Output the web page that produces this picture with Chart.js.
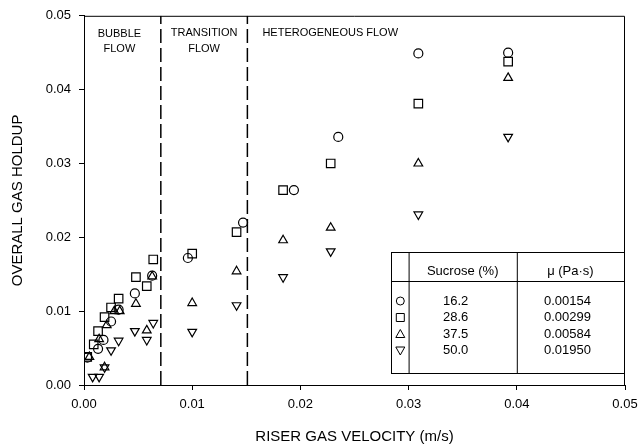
<!DOCTYPE html>
<html>
<head>
<meta charset="utf-8">
<script src="https://cdn.jsdelivr.net/npm/chart.js@4/dist/chart.umd.min.js"></script>
<style>
  html, body { margin: 0; padding: 0; background: #fff; }
  #wrap { width: 638px; height: 446px; }
</style>
</head>
<body>
<div id="wrap"><canvas id="holdup"></canvas></div>
<script>
// series (riser gas velocity m/s, overall gas holdup)
const x162 = [0.0003, 0.0013, 0.0018, 0.0025, 0.0032, 0.0047, 0.0063, 0.0096, 0.0147, 0.0194, 0.0235, 0.0309, 0.0392];
const y162 = [0.0037, 0.0049, 0.0061, 0.0086, 0.0102, 0.0124, 0.0148, 0.0172, 0.0220, 0.0264, 0.0336, 0.0449, 0.0450];

const x286 = [0.0003, 0.0009, 0.0013, 0.0019, 0.0025, 0.0032, 0.0048, 0.0058, 0.0064, 0.0100, 0.0141, 0.0184, 0.0228, 0.0309, 0.0392];
const y286 = [0.0038, 0.0055, 0.0073, 0.0092, 0.0105, 0.0117, 0.0146, 0.0134, 0.0170, 0.0178, 0.0207, 0.0264, 0.0300, 0.0381, 0.0438];

const x375 = [0.0005, 0.0014, 0.0019, 0.0021, 0.0028, 0.0033, 0.0048, 0.0058, 0.0063, 0.0100, 0.0141, 0.0184, 0.0228, 0.0309, 0.0392];
const y375 = [0.0038, 0.0062, 0.0024, 0.0081, 0.0100, 0.0100, 0.0110, 0.0074, 0.0147, 0.0111, 0.0154, 0.0196, 0.0213, 0.0300, 0.0416];

const x500 = [0.0008, 0.0014, 0.0019, 0.0025, 0.0032, 0.0047, 0.0058, 0.0064, 0.0100, 0.0141, 0.0184, 0.0228, 0.0309, 0.0392];
const y500 = [0.0011, 0.0011, 0.0024, 0.0047, 0.0060, 0.0073, 0.0061, 0.0084, 0.0072, 0.0108, 0.0146, 0.0181, 0.0231, 0.0336];

// flow regime boundaries
const boundaries = [0.0071, 0.0151];

// table in the corner
const sucrose = ['16.2', '28.6', '37.5', '50.0'];
const viscosity = ['0.00154', '0.00299', '0.00584', '0.01950'];

const pts = (xs, ys) => xs.map((x, i) => ({ x: x, y: ys[i] }));

const FONT = '"Liberation Sans", Arial, sans-serif';

function series(label, xs, ys, style, rot, r) {
    return {
        label: label,
        data: pts(xs, ys),
        pointStyle: style,
        pointRotation: rot,
        pointRadius: r,
        pointBorderColor: '#000',
        pointBackgroundColor: 'rgba(0,0,0,0)',
        pointBorderWidth: 1.2,
        showLine: false
    };
}

const datasets = [
    series('16.2', x162, y162, 'circle', 0, 4.5),
    series('28.6', x286, y286, 'rect', 0, 6),
    series('37.5', x375, y375, 'triangle', 0, 5),
    series('50.0', x500, y500, 'triangle', 180, 5)
];
boundaries.forEach(b => {
    datasets.push({
        data: [{ x: b, y: 0 }, { x: b, y: 0.05 }],
        showLine: true,
        borderColor: '#000',
        borderWidth: 1.5,
        borderDash: [14, 5],
        pointRadius: 0
    });
});

// marker drawn in the table
function marker(ctx, kind, x, y) {
    ctx.beginPath();
    if (kind === 0) {
        ctx.arc(x, y, 4, 0, Math.PI * 2);
    } else if (kind === 1) {
        ctx.rect(x - 4, y - 4, 8, 8);
    } else if (kind === 2) {
        ctx.moveTo(x, y - 4.5); ctx.lineTo(x + 4.5, y + 3.5); ctx.lineTo(x - 4.5, y + 3.5); ctx.closePath();
    } else {
        ctx.moveTo(x, y + 4.5); ctx.lineTo(x + 4.5, y - 3.5); ctx.lineTo(x - 4.5, y - 3.5); ctx.closePath();
    }
    ctx.stroke();
}

const extras = {
    id: 'extras',
    afterDatasetsDraw(chart) {
        const ctx = chart.ctx;
        const a = chart.chartArea;
        const xs = chart.scales.x;
        ctx.save();
        // frame on top and right
        ctx.strokeStyle = '#000';
        ctx.lineWidth = 1;
        ctx.beginPath();
        ctx.moveTo(a.left, a.top + 0.5);
        ctx.lineTo(a.right - 0.5, a.top + 0.5);
        ctx.lineTo(a.right - 0.5, a.bottom);
        ctx.stroke();

        // regime labels
        ctx.fillStyle = '#000';
        ctx.font = '11px ' + FONT;
        ctx.textAlign = 'center';
        ctx.textBaseline = 'middle';
        const bx = (xs.getPixelForValue(0) + xs.getPixelForValue(boundaries[0])) / 2 - 3;
        ctx.fillText('BUBBLE', bx, a.top + 18);
        ctx.fillText('FLOW', bx, a.top + 33);
        const tx = (xs.getPixelForValue(boundaries[0]) + xs.getPixelForValue(boundaries[1])) / 2;
        ctx.fillText('TRANSITION', tx, a.top + 17);
        ctx.fillText('FLOW', tx, a.top + 33);
        ctx.textAlign = 'left';
        ctx.fillText('HETEROGENEOUS FLOW', xs.getPixelForValue(boundaries[1]) + 15, a.top + 17);

        // table
        const L = 391, R = a.right - 1, T = 252, B = 373;
        const c1 = xs.getPixelForValue(0.03), c2 = xs.getPixelForValue(0.04);
        ctx.fillStyle = '#fff';
        ctx.fillRect(L, T, R - L, B - T);
        ctx.strokeStyle = '#000';
        ctx.lineWidth = 1;
        ctx.strokeRect(L + 0.5, T + 0.5, R - L, B - T);
        ctx.beginPath();
        ctx.moveTo(c1 + 0.5, T); ctx.lineTo(c1 + 0.5, B);
        ctx.moveTo(c2 + 0.5, T); ctx.lineTo(c2 + 0.5, B);
        ctx.moveTo(L, T + 29.5); ctx.lineTo(R, T + 29.5);
        ctx.stroke();
        ctx.fillStyle = '#000';
        ctx.textAlign = 'center';
        ctx.font = '13px ' + FONT;
        ctx.fillText('Sucrose (%)', (c1 + c2) / 2, T + 19);
        ctx.fillText('\u03bc (Pa\u00b7s)', (c2 + R) / 2, T + 19);
        ctx.lineWidth = 1;
        sucrose.forEach((s, i) => {
            const y = T + 49 + i * 16.5;
            ctx.fillText(s, (c1 + c2) / 2 - 7, y);
            ctx.fillText(viscosity[i], (c2 + R) / 2 - 3, y);
            marker(ctx, i, (L + c1) / 2 + 0.5, y);
        });
        ctx.restore();
    }
};

const ctx = document.getElementById('holdup').getContext('2d');
const holdupChart = new Chart(ctx, {
    type: 'scatter',
    data: { datasets: datasets },
    options: {
        responsive: true,
        maintainAspectRatio: false,
        animation: false,
        layout: { padding: { top: 14, right: 2, left: 0, bottom: 0 } },
        plugins: { legend: { display: false }, tooltip: { enabled: false } },
        scales: {
            x: {
                type: 'linear',
                min: 0, max: 0.05,
                afterFit: s => { s.height = 61; s.paddingRight = 13; },
                border: { color: '#000', width: 1 },
                grid: { drawOnChartArea: false, tickLength: 5, color: '#000' },
                ticks: {
                    stepSize: 0.01, padding: 7, color: '#000',
                    font: { family: FONT, size: 13 },
                    callback: v => v.toFixed(2)
                },
                title: {
                    display: true, text: 'RISER GAS VELOCITY (m/s)', color: '#000',
                    font: { family: FONT, size: 15 }, padding: { top: 0, bottom: 0 }
                }
            },
            y: {
                type: 'linear',
                min: 0, max: 0.05,
                afterFit: s => { s.width = 84; },
                border: { color: '#000', width: 1 },
                grid: { drawOnChartArea: false, tickLength: 5, color: '#000' },
                ticks: {
                    stepSize: 0.01, padding: 8, color: '#000',
                    font: { family: FONT, size: 13 },
                    callback: v => v.toFixed(2)
                },
                title: {
                    display: true, text: 'OVERALL GAS HOLDUP', color: '#000',
                    font: { family: FONT, size: 15 }, padding: { top: 9, bottom: 0 }
                }
            }
        }
    },
    plugins: [extras]
});
</script>
</body>
</html>
